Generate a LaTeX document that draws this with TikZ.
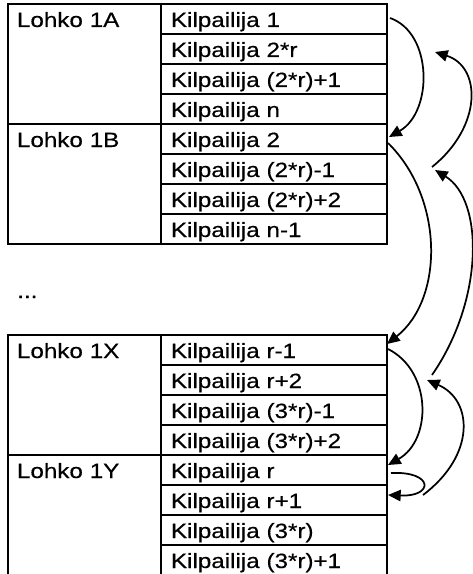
\documentclass[tikz,border=0pt]{standalone}
\usepackage{fontspec}
\setmainfont{Liberation Sans}[FakeStretch=1.17,FakeBold=0.4]
\usetikzlibrary{positioning,calc,arrows.meta}

\begin{document}
\begin{tikzpicture}[x=0.75pt,y=-0.75pt,
  font=\fontsize{15.5pt}{18pt}\selectfont,
  block/.style={draw, line width=1.6pt, outer sep=0pt, inner ysep=0pt, inner xsep=6.75pt,
    text width=101.25pt, align=left, text height=17.25pt, text depth=72.75pt},
  cell/.style={draw, line width=1.6pt, outer sep=0pt, inner ysep=0pt, inner xsep=7.5pt,
    text width=154.5pt, align=left, text height=17.25pt, text depth=5.25pt},
  link/.style={line width=1.3pt, -{Triangle[length=9.5pt,width=8.5pt]}}]
\useasboundingbox (0,0) rectangle (473,574);
% Block 1A
\node[block, anchor=north west] (lohkoA) at (8,4) {Lohko 1A};
\node[cell, anchor=north west] (a1) at (lohkoA.north east) {Kilpailija 1};
\node[cell, below=0pt of a1] (a2) {Kilpailija 2*r};
\node[cell, below=0pt of a2] (a3) {Kilpailija (2*r)+1};
\node[cell, below=0pt of a3] (a4) {Kilpailija n};
% Block 1B
\node[block, below=0pt of lohkoA] (lohkoB) {Lohko 1B};
\node[cell, anchor=north west] (b1) at (lohkoB.north east) {Kilpailija 2};
\node[cell, below=0pt of b1] (b2) {Kilpailija (2*r)-1};
\node[cell, below=0pt of b2] (b3) {Kilpailija (2*r)+2};
\node[cell, below=0pt of b3] (b4) {Kilpailija n-1};
% Gap
\node[anchor=base west, inner sep=0pt] (dots) at (17,298) {...};
% Block 1X
\node[block, anchor=north west] (lohkoX) at (8,335) {Lohko 1X};
\node[cell, anchor=north west] (x1) at (lohkoX.north east) {Kilpailija r-1};
\node[cell, below=0pt of x1] (x2) {Kilpailija r+2};
\node[cell, below=0pt of x2] (x3) {Kilpailija (3*r)-1};
\node[cell, below=0pt of x3] (x4) {Kilpailija (3*r)+2};
% Block 1Y
\node[block, below=0pt of lohkoX] (lohkoY) {Lohko 1Y};
\node[cell, anchor=north west] (y1) at (lohkoY.north east) {Kilpailija r};
\node[cell, below=0pt of y1] (y2) {Kilpailija r+1};
\node[cell, below=0pt of y2] (y3) {Kilpailija (3*r)};
\node[cell, below=0pt of y3] (y4) {Kilpailija (3*r)+1};
% Free ends of the return arrows
\coordinate (endA2) at ($(a2.east)+(48,3)$);
\coordinate (startB2) at ($(b2.east)+(45,-2)$);
\coordinate (endB2) at ($(b2.east)+(48,1)$);
\coordinate (startX2) at ($(x2.east)+(45,-5)$);
\coordinate (endX2) at ($(x2.east)+(40,0)$);
\coordinate (startY2) at ($(y2.east)+(36,-5)$);
% Arrows down the list
\draw[link] ($(a1.east)+(3,-1)$) .. controls +(43,15) and +(44,-25) .. ($(b1.east)+(2,-2)$);
\draw[link] ($(b1.east)+(1,4)$) .. controls +(56,55) and +(57,-45) .. ($(x1.east)+(0,-6)$);
\draw[link] ($(x1.east)+(1,-1)$) .. controls +(44,22) and +(44,-25) .. ($(y1.east)+(1,-5)$);
\draw[link] ($(y1.east)+(4,3)$) .. controls +(43,-2) and +(46,2) .. ($(y2.east)+(1,-5)$);
% Arrows back up
\draw[link] (startY2) .. controls +(53,-40) and +(46,20) .. (endX2);
\draw[link] (startX2) .. controls +(52,-75) and +(49,30) .. (endB2);
\draw[link] (startB2) .. controls +(50,-40) and +(47,15) .. (endA2);
\end{tikzpicture}
\end{document}
